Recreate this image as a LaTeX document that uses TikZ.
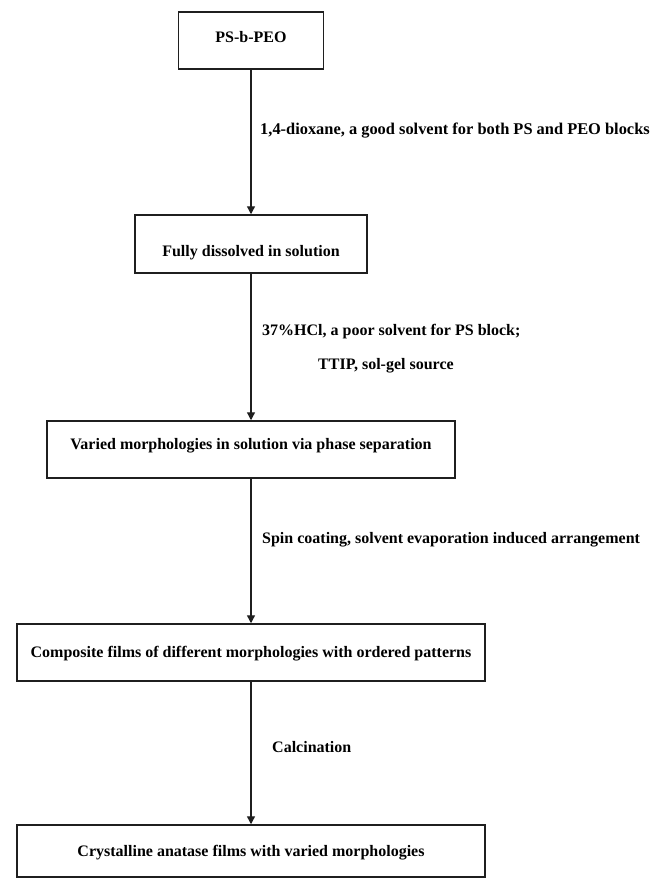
\documentclass[tikz,border=0pt]{standalone}
\usepackage{fontspec}
\setmainfont{Liberation Serif}
\usetikzlibrary{arrows.meta}
\begin{document}
\begin{tikzpicture}[x=1pt,y=1pt,
  every node/.style={font=\fontsize{16}{19}\selectfont\bfseries, text=black},
  stepbox/.style={draw=black!88, line width=1.5pt, inner sep=0pt, rectangle},
  lbl/.style={anchor=west, inner sep=0pt},
  flow/.style={draw=black!88, line width=1.3pt, -{Triangle[width=8pt,length=8pt]}}]
\useasboundingbox (0,0) rectangle (652,-879);
\node[stepbox, minimum width=145pt, minimum height=57pt, text height=12pt, text depth=9pt] (b1) at (251,-40.5) {PS-b-PEO};
\node[stepbox, minimum width=232pt, minimum height=58pt, text height=24pt, text depth=0pt] (b2) at (251,-244) {Fully dissolved in solution};
\node[stepbox, minimum width=408pt, minimum height=57pt, text height=12pt, text depth=12pt] (b3) at (251,-449.5) {Varied morphologies in solution via phase separation};
\node[stepbox, minimum width=468pt, minimum height=57pt, text height=12pt, text depth=2pt] (b4) at (251,-652.5) {Composite films of different morphologies with ordered patterns};
\node[stepbox, minimum width=468pt, minimum height=52pt, text height=12pt, text depth=1pt] (b5) at (251,-851) {Crystalline anatase films with varied morphologies};
\draw[flow] (b1.south) -- (b2.north);
\draw[flow] (b2.south) -- (b3.north);
\draw[flow] (b3.south) -- (b4.north);
\draw[flow] (b4.south) -- (b5.north);
\node[lbl, font=\fontsize{16.4}{19}\selectfont\bfseries] (l1) at (260,-131) {1,4-dioxane, a good solvent for both PS and PEO blocks};
\node[lbl] (l2) at (262,-332) {37\%HCl, a poor solvent for PS block;};
\node[lbl] (l2b) at (318,-366) {TTIP, sol-gel source};
\node[lbl] (l3) at (262,-540) {Spin coating, solvent evaporation induced arrangement};
\node[lbl] (l4) at (272,-747) {Calcination};
\end{tikzpicture}
\end{document}
